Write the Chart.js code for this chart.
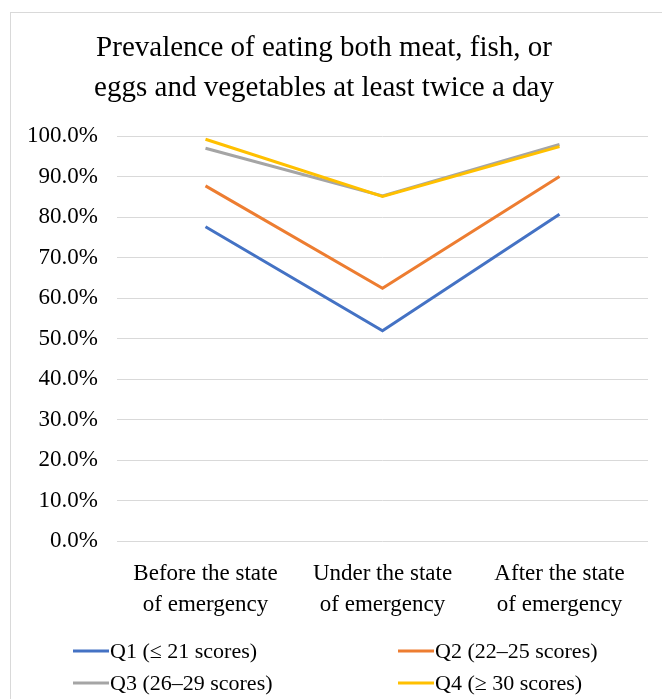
<!DOCTYPE html>
<html>
<head>
<meta charset="utf-8">
<script src="https://cdn.jsdelivr.net/npm/chart.js@4.4.0/dist/chart.umd.min.js"></script>
<style>
  html, body { margin: 0; padding: 0; background: #fff; }
  #wrap { position: relative; width: 662px; height: 699px; }
  #frame { position: absolute; left: 10px; top: 12px; right: -2px; bottom: -2px; border-left: 1px solid #d9d9d9; border-top: 1px solid #d9d9d9; }
  canvas { position: absolute; left: 0; top: 0; }
</style>
</head>
<body>
<div id="wrap">
  <div id="frame"></div>
  <canvas id="c" width="662" height="699"></canvas>
</div>
<script>
const titleLines = ['Prevalence of eating both meat, fish, or', 'eggs and vegetables at least twice a day'];
const categories = [['Before the state', 'of emergency'], ['Under the state', 'of emergency'], ['After the state', 'of emergency']];
const seriesNames = ['Q1 (\u2264 21 scores)', 'Q2 (22\u201325 scores)', 'Q3 (26\u201329 scores)', 'Q4 (\u2265 30 scores)'];
const q1 = [77.6, 51.9, 80.7];
const q2 = [87.7, 62.4, 90.0];
const q3 = [97.0, 85.2, 97.9];
const q4 = [99.2, 85.1, 97.4];
const colors = ['#4472C4', '#ED7D31', '#A5A5A5', '#FFC000'];

const serif = "'Liberation Serif', 'Times New Roman', serif";

const legendPlugin = {
  id: 'gridLegend',
  afterDraw(chart, args, opts) {
    const ctx = chart.ctx;
    ctx.save();
    ctx.font = opts.fontSize + 'px ' + serif;
    ctx.textBaseline = 'middle';
    ctx.textAlign = 'left';
    chart.data.datasets.forEach((ds, i) => {
      const col = i % 2, row = Math.floor(i / 2);
      const x = opts.colX[col], y = opts.rowY[row];
      ctx.strokeStyle = ds.borderColor;
      ctx.lineWidth = 3;
      ctx.beginPath();
      ctx.moveTo(x, y);
      ctx.lineTo(x + opts.lineLen, y);
      ctx.stroke();
      ctx.fillStyle = '#000';
      ctx.fillText(ds.label, x + opts.lineLen + 1, y + 1);
    });
    ctx.restore();
  }
};

const datasets = [q1, q2, q3, q4].map((d, i) => ({
  label: seriesNames[i],
  data: d,
  borderColor: colors[i],
  backgroundColor: colors[i],
  borderWidth: 3,
  pointRadius: 0,
  pointHoverRadius: 0,
  tension: 0,
  fill: false,
  order: 3 - i
}));

new Chart(document.getElementById('c'), {
  type: 'line',
  data: { labels: categories, datasets },
  plugins: [legendPlugin],
  options: {
    responsive: false,
    animation: false,
    layout: { padding: { left: 0, right: 14, top: 0, bottom: 79 } },
    plugins: {
      legend: { display: false },
      tooltip: { enabled: false },
      title: {
        display: true,
        text: titleLines,
        color: '#000',
        font: { family: serif, size: 29, weight: 'normal', lineHeight: 1.38 },
        padding: { top: 28, bottom: 28 }
      },
      gridLegend: { fontSize: 22, colX: [73, 398], rowY: [651, 683], lineLen: 36 }
    },
    scales: {
      x: {
        offset: true,
        grid: { display: false, drawTicks: false },
        border: { display: false },
        ticks: {
          color: '#000',
          padding: 17,
          maxRotation: 0,
          font: { family: serif, size: 23, lineHeight: 1.35 }
        },
        afterFit(scale) { scale.height = 79; }
      },
      y: {
        min: 0, max: 100,
        grid: { color: '#d9d9d9', lineWidth: 1, drawTicks: false },
        border: { display: false },
        ticks: {
          stepSize: 10,
          color: '#000',
          padding: 19,
          font: { family: serif, size: 23 },
          callback: v => v.toFixed(1) + '%'
        },
        afterFit(scale) { scale.width = 117; }
      }
    }
  }
});
</script>
</body>
</html>
